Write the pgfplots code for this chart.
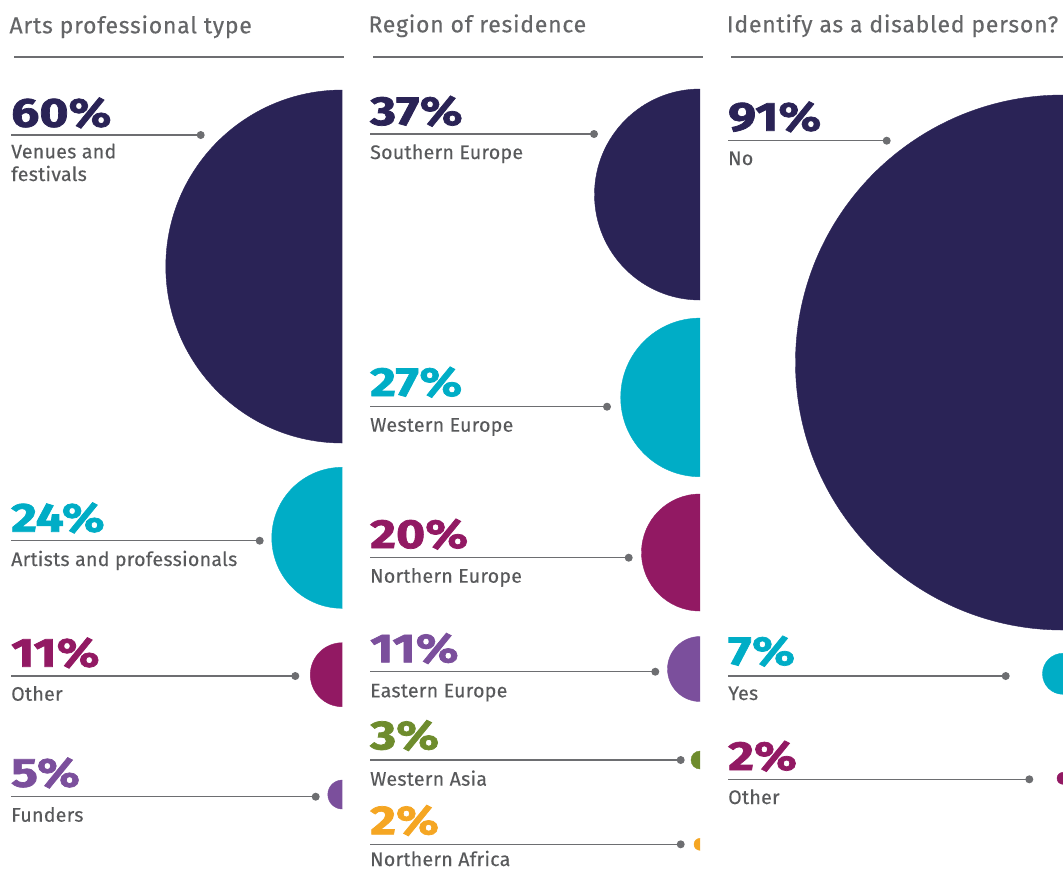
\documentclass[border=0pt]{standalone}
\usepackage{fontspec}
\setmainfont{Fira Sans}
\newfontfamily\pctfont{Fira Sans}[FakeBold=1.8, FakeStretch=1.23]
\newfontfamily\ttlfont{Fira Sans}[LetterSpace=3.3, FakeBold=0.3]
\newfontfamily\labfont{Fira Sans}[LetterSpace=1.4, FakeBold=0.3]
\usepackage{pgfplots}
\usepackage{pgfplotstable}
\pgfplotsset{compat=1.18}
\definecolor{cnavy}{HTML}{2A2356}
\definecolor{ccyan}{HTML}{00ADC6}
\definecolor{cmag}{HTML}{921963}
\definecolor{cpur}{HTML}{7B4F9C}
\definecolor{cgreen}{HTML}{6E8C2D}
\definecolor{corange}{HTML}{F5A623}
\definecolor{ctext}{HTML}{58595B}
\definecolor{cline}{HTML}{6D6E71}

% circles: x = panel edge, y = centre, r = radius (px), v = value
\pgfplotstableread{
x y r v c
342.3 266.5 176.5 60 navy
342.3 537.8 70.5 24 cyan
342.3 674.7 32 11 mag
342.3 794.5 14.5 5 pur
}\tblA
\pgfplotstableread{
x y r v c
700 194.5 105.5 37 navy
700 397.4 79.3 27 cyan
700 552.5 58.5 20 mag
700 669 32.5 11 pur
700 760 9 3 green
700 844.3 6 2 orange
}\tblB
\pgfplotstableread{
x y r v c
1063 362.5 267.5 91 navy
1063 673.8 20.5 7 cyan
1063 778.3 6 2 mag
}\tblC

\pgfplotsset{
  panel/.style={x=1pt,y=1pt,y dir=reverse,ymin=0,ymax=870,hide axis,
    scale only axis,anchor=north west,clip marker paths=true},
  halfcircles/.style={scatter, only marks, mark=*, scatter src=explicit symbolic,
    scatter/classes={
      navy={mark=*,cnavy},
      cyan={mark=*,ccyan},
      mag={mark=*,cmag},
      pur={mark=*,cpur},
      green={mark=*,cgreen},
      orange={mark=*,corange}},
    visualization depends on={\thisrow{r} \as \rr},
    scatter/@pre marker code/.append style={/tikz/mark size=\rr}},
  leader/.style={cline, line width=1.3pt, mark=*, mark size=3.3pt, mark indices={2},
    mark options={fill=cline,draw=none}},
}
\tikzset{
  pct/.style={anchor=base west, inner sep=0pt, font=\pctfont\bfseries\fontsize{40.6}{44}\selectfont},
  lab/.style={anchor=base west, inner sep=0pt, text=ctext, font=\labfont\fontsize{19.6}{23}\selectfont},
  ttl/.style={anchor=base west, inner sep=0pt, text=ctext!92!white, font=\ttlfont\fontsize{23}{27}\selectfont},
}

\begin{document}
\begin{tikzpicture}
\useasboundingbox (0,0) rectangle (1063pt,-870pt);

\begin{axis}[panel, xmin=0, xmax=342.3, at={(0pt,0pt)}]
\addplot[halfcircles] table[x=x,y=y,meta=c]{\tblA};
\end{axis}
\begin{axis}[panel, xmin=350, xmax=700, at={(350pt,0pt)}]
\addplot[halfcircles] table[x=x,y=y,meta=c]{\tblB};
\end{axis}
\begin{axis}[panel, xmin=710, xmax=1063, at={(710pt,0pt)}]
\addplot[halfcircles] table[x=x,y=y,meta=c]{\tblC};
\end{axis}

\begin{axis}[panel, xmin=0, xmax=1063, at={(0pt,0pt)}, clip=false]
% titles and rules
\node[ttl] at (axis cs:9.3,33.3) {Arts professional type};
\node[ttl] at (axis cs:368.3,32.3) {Region of residence};
\node[ttl] at (axis cs:726.7,32.3) {Identify as a disabled person?};
\addplot[cline, line width=2pt] coordinates {(14,57.3) (344,57.3)};
\addplot[cline, line width=2pt] coordinates {(373,57) (702.7,57)};
\addplot[cline, line width=2pt] coordinates {(731,56.5) (1063,56.5)};

% panel 1
\addplot[leader] coordinates {(11,135) (200.7,135)};
\addplot[leader] coordinates {(11,540.7) (259.7,540.7)};
\addplot[leader] coordinates {(11,676) (295.3,676)};
\addplot[leader] coordinates {(11,796.7) (315.7,796.7)};
\node[pct,text=cnavy] at (axis cs:11,126.7) {60\%};
\node[lab] at (axis cs:11,158.3) {Venues and};
\node[lab] at (axis cs:11,181) {festivals};
\node[pct,text=ccyan] at (axis cs:11,531.7) {24\%};
\node[lab] at (axis cs:11,566) {Artists and professionals};
\node[pct,text=cmag] at (axis cs:11,666.7) {11\%};
\node[lab] at (axis cs:11,700.7) {Other};
\node[pct,text=cpur] at (axis cs:11,786.7) {5\%};
\node[lab] at (axis cs:11,821.7) {Funders};

% panel 2
\addplot[leader] coordinates {(370,134) (594,134)};
\addplot[leader] coordinates {(370,406.7) (607,406.7)};
\addplot[leader] coordinates {(370,557.7) (628.7,557.7)};
\addplot[leader] coordinates {(370,671.7) (655.3,671.7)};
\addplot[leader] coordinates {(370,760) (680.7,760)};
\addplot[leader] coordinates {(370,844.3) (680.7,844.3)};
\node[pct,text=cnavy] at (axis cs:370,125) {37\%};
\node[lab] at (axis cs:370,159) {Southern Europe};
\node[pct,text=ccyan] at (axis cs:370,396) {27\%};
\node[lab] at (axis cs:370,431.7) {Western Europe};
\node[pct,text=cmag] at (axis cs:370,548) {20\%};
\node[lab] at (axis cs:370,582.7) {Northern Europe};
\node[pct,text=cpur] at (axis cs:370,662.3) {11\%};
\node[lab] at (axis cs:370,697.3) {Eastern Europe};
\node[pct,text=cgreen] at (axis cs:370,749.3) {3\%};
\node[lab] at (axis cs:370,785.7) {Western Asia};
\node[pct,text=corange] at (axis cs:370,834.3) {2\%};
\node[lab] at (axis cs:370,866) {Northern Africa};

% panel 3
\addplot[leader] coordinates {(728.3,140.7) (886.7,140.7)};
\addplot[leader] coordinates {(728.3,676) (1005.7,676)};
\addplot[leader] coordinates {(728.3,779.3) (1029.3,779.3)};
\node[pct,text=cnavy] at (axis cs:728,130.7) {91\%};
\node[lab] at (axis cs:728,165) {No};
\node[pct,text=ccyan] at (axis cs:728,665) {7\%};
\node[lab] at (axis cs:728,700) {Yes};
\node[pct,text=cmag] at (axis cs:728,770) {2\%};
\node[lab] at (axis cs:728,804) {Other};
\end{axis}
\end{tikzpicture}
\end{document}
